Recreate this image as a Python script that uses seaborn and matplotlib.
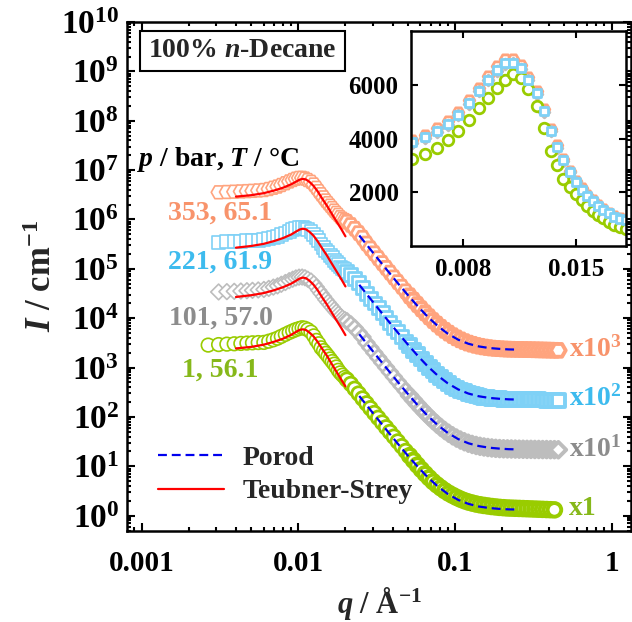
import numpy as np
import matplotlib
matplotlib.use("Agg")
import matplotlib.pyplot as plt
import seaborn as sns
from matplotlib.ticker import FixedLocator, NullLocator, NullFormatter, LogLocator, FixedFormatter
from matplotlib.lines import Line2D

nan = np.nan

# ---------------- data ----------------
q = [0.00266, 0.00310, 0.00350, 0.00390, 0.00430, 0.00470, 0.00510, 0.00555,
     0.00603, 0.00648, 0.00693, 0.00737, 0.00779, 0.00827, 0.00875, 0.00921, 0.00965, 0.01011,
     0.01058, 0.01103, 0.01150, 0.01205, 0.01255, 0.01303, 0.01351, 0.01397, 0.01450, 0.01497,
     0.01548, 0.01597, 0.01646, 0.01696, 0.01747, 0.01800, 0.01854, 0.01916, 0.01981,
     0.02042, 0.02163, 0.02291, 0.02427, 0.02570, 0.02723, 0.02884, 0.03055, 0.03236, 0.03428,
     0.03631, 0.03846, 0.04074, 0.04315, 0.04571, 0.04842, 0.05129, 0.05433, 0.05754, 0.06095,
     0.06457, 0.06839, 0.07244, 0.07674, 0.08128, 0.08610, 0.09120, 0.09661, 0.1023, 0.1084,
     0.1148, 0.1216, 0.1288, 0.1365, 0.1445, 0.1531, 0.1622, 0.1718, 0.1820, 0.1928,
     0.2042, 0.2163, 0.2291, 0.2427, 0.2570, 0.2723, 0.2884, 0.3055, 0.3236, 0.3428,
     0.3631, 0.3846, 0.4074, 0.4315, 0.4571]

I_green = [2850, 2920, 2980, 3030, 3080, 3130, 3170, 3210,
           3230, 3420, 3650, 3930, 4280, 4700, 5130, 5510, 5870, 6160,
           6400, 6250, 5850, 5220, 4380, 3550, 3030, 2510, 2200, 1940,
           1700, 1490, 1320, 1170, 1025, 880, 780, 700, 630,
           570, 465, 372, 297, 236, 188, 150, 120, 96, 77,
           61.5, 49.5, 39.8, 31.8, 25.5, 20.4, 16.4, 13.2, 10.6, 8.6,
           7.05, 5.85, 4.9, 4.2, 3.65, 3.2, 2.85, 2.58, 2.35, 2.16,
           2.01, 1.89, 1.8, 1.72, 1.66, 1.61, 1.57, 1.53, 1.5, 1.47,
           1.45, 1.43, 1.42, 1.41, 1.4, 1.39, 1.38, 1.37, 1.36, 1.35,
           1.34, 1.33, 1.32, 1.31, nan]

I_grey = [nan, 3400, 3450, 3500, 3550, 3600, 3660, 3730,
          3820, 4010, 4260, 4510, 4860, 5280, 5750, 6160, 6530, 6780,
          6810, 6590, 6160, 5660, 4990, 4280, 3660, 3170, 2740, 2370,
          2090, 1855, 1660, 1475, 1325, 1200, 1080, 1000, 940,
          870, 750, 632, 514, 415, 317, 252, 200, 159.5, 127,
          101.5, 81, 64.8, 51.9, 41.8, 33.7, 27.2, 22.1, 18.0, 14.7,
          12.15, 10.1, 8.45, 7.15, 6.12, 5.3, 4.66, 4.14, 3.73, 3.4,
          3.14, 2.93, 2.77, 2.64, 2.54, 2.46, 2.4, 2.35, 2.31, 2.28,
          2.26, 2.25, 2.24, 2.23, 2.22, 2.21, 2.2, 2.2, 2.19, 2.19,
          2.18, 2.18, 2.17, 2.17, 2.16]

I_blue = [nan, 3470, 3520, 3570, 3620, 3670, 3720, 3790,
          3863, 4050, 4296, 4544, 4889, 5308, 5778, 6185, 6556, 6802,
          6827, 6605, 6173, 5679, 5012, 4296, 3679, 3185, 2752, 2382,
          2100, 1864, 1667, 1481, 1333, 1210, 1090, 1010, 950,
          880, 760, 640, 520, 420, 321, 255, 203, 162, 129,
          103, 82.2, 65.7, 52.6, 42.3, 34.1, 27.5, 22.3, 18.2, 14.9,
          12.3, 10.2, 8.55, 7.24, 6.2, 5.38, 4.73, 4.21, 3.8, 3.47,
          3.21, 3.0, 2.84, 2.7, 2.6, 2.52, 2.45, 2.4, 2.36, 2.33,
          2.3, 2.29, 2.28, 2.27, 2.26, 2.25, 2.24, 2.23, 2.22, 2.21,
          2.2, 2.19, 2.18, 2.17, 2.16]

I_orange = [nan, 3550, 3600, 3650, 3700, 3750, 3800, 3870,
            3950, 4140, 4390, 4640, 4990, 5420, 5890, 6310, 6690, 6940,
            6960, 6730, 6290, 5780, 5100, 4370, 3740, 3240, 2800, 2420,
            2140, 1900, 1700, 1510, 1360, 1235, 1110, 1030, 970,
            900, 775, 650, 530, 428, 327, 260, 207, 165, 131.5,
            105, 84, 67.3, 54, 43.5, 35.1, 28.4, 23.1, 18.9, 15.5,
            12.8, 10.65, 8.95, 7.6, 6.52, 5.66, 4.98, 4.43, 3.99, 3.64,
            3.36, 3.13, 2.96, 2.81, 2.7, 2.61, 2.54, 2.48, 2.44, 2.41,
            2.38, 2.36, 2.35, 2.34, 2.33, 2.32, 2.31, 2.3, 2.29, 2.28,
            2.27, 2.26, 2.25, 2.24, 2.23]

# Teubner-Strey fits (unscaled)
ts_q = [0.0040, 0.0050, 0.0060, 0.0070, 0.0080, 0.0090, 0.0096, 0.0102, 0.0107, 0.0112,
        0.0118, 0.0125, 0.0133, 0.0142, 0.0152, 0.0163, 0.0175, 0.0188, 0.0200]
ts_green = [2440, 2620, 2900, 3330, 3850, 4600, 5200, 5800, 5950, 5750,
            5100, 4300, 3300, 2400, 1750, 1200, 830, 570, 415]
ts_grey = [2690, 2920, 3220, 3680, 4250, 5000, 5650, 6350, 6640, 6450,
           5720, 4780, 3680, 2640, 1910, 1320, 915, 635, 454]
ts_blue = [2680, 2900, 3200, 3650, 4200, 4950, 5600, 6250, 6490, 6300,
           5600, 4700, 3600, 2600, 1880, 1300, 900, 620, 440]
ts_orange = [2900, 3100, 3400, 3850, 4400, 5150, 5750, 6400, 6640, 6450,
             5750, 4800, 3700, 2650, 1920, 1330, 920, 640, 455]

# Porod fits (unscaled)
porod_q = [0.0245, 0.028, 0.032, 0.037, 0.043, 0.05, 0.058, 0.067, 0.078, 0.09,
           0.105, 0.122, 0.142, 0.165, 0.192, 0.22, 0.247]
porod_green = [265, 156, 92, 52, 29.1, 16.5, 9.7, 6.0, 3.87, 2.75, 2.08, 1.73, 1.53, 1.43, 1.37, 1.34, 1.33]
porod_grey = [474, 279, 164, 92.8, 51.8, 29.3, 17.1, 10.5, 6.74, 4.74, 3.55, 2.92, 2.57, 2.38, 2.28, 2.22, 2.2]
porod_blue = [474, 279, 164, 92.9, 51.9, 29.4, 17.2, 10.6, 6.79, 4.79, 3.6, 2.97, 2.62, 2.43, 2.33, 2.27, 2.25]
porod_orange = [474, 279, 164, 93, 52, 29.5, 17.3, 10.7, 6.85, 4.85, 3.66, 3.03, 2.68, 2.49, 2.39, 2.33, 2.31]

series_names = ["green", "grey", "blue", "orange"]
series_labels = ["1, 56.1", "101, 57.0", "221, 61.9", "353, 65.1"]
scale_factors = [1, 10, 100, 1000]
scale_labels = ["x1", "x10$^{1}$", "x10$^{2}$", "x10$^{3}$"]
y_tick_values = [10.0 ** k for k in range(0, 11)]
y_tick_labels = ["$10^{%d}$" % k for k in range(0, 11)]
x_tick_values = [0.001, 0.01, 0.1, 1]
x_tick_labels = ["0.001", "0.01", "0.1", "1"]
inset_x_ticks = [0.008, 0.015]
inset_x_labels = ["0.008", "0.015"]
inset_y_ticks = [2000, 4000, 6000]

data_I = {"green": I_green, "grey": I_grey, "blue": I_blue, "orange": I_orange}
ts_I = {"green": ts_green, "grey": ts_grey, "blue": ts_blue, "orange": ts_orange}
porod_I = {"green": porod_green, "grey": porod_grey, "blue": porod_blue, "orange": porod_orange}

# ---------------- style ----------------
sns.set_theme(style="ticks")
plt.rcParams["font.family"] = ["Liberation Serif", "DejaVu Serif"]
plt.rcParams["font.weight"] = "bold"
plt.rcParams["mathtext.fontset"] = "custom"
plt.rcParams["mathtext.rm"] = "Liberation Serif:bold"
plt.rcParams["mathtext.it"] = "Liberation Serif:italic:bold"
plt.rcParams["mathtext.bf"] = "Liberation Serif:bold"
plt.rcParams["axes.linewidth"] = 1.8

marker_col = {"green": "#99CC00", "grey": "#BDBDBD", "blue": "#7FD1F6", "orange": "#FFA47E"}
text_col = {"green": "#86B81A", "grey": "#8C8C8C", "blue": "#3DBBEE", "orange": "#F8936B"}
markers = {"green": "o", "grey": "D", "blue": "s", "orange": "H"}
ms_main = {"green": 9.8, "grey": 8.0, "blue": 9.3, "orange": 10.6}
ms_in = {"green": 7.6, "grey": 5.5, "blue": 6.3, "orange": 7.7}

fig = plt.figure(figsize=(6.32, 6.22), dpi=100)
ax = fig.add_axes([127.3 / 632, 1 - 530.5 / 622, (631 - 127.3) / 632, (530.5 - 22) / 622])
ax.set_xscale("log")
ax.set_yscale("log")

qa = np.array(q)
# edge width of the hollow markers: thin where points are sparse, heavier where the
# measured points crowd together into a solid band
edge_w = np.where(qa < 0.02, 1.2, np.where(qa < 0.05, 2.0, 2.8))

for name, sf in zip(series_names, scale_factors):
    yv = np.array(data_I[name], dtype=float) * sf
    sns.scatterplot(x=qa, y=yv, marker=markers[name], s=ms_main[name] ** 2,
                    color=marker_col[name], facecolor="white", edgecolor=marker_col[name],
                    linewidth=1.2, ax=ax, zorder=2, legend=False)
    coll = ax.collections[-1]
    keep = ~np.isnan(yv)
    coll.set_linewidths(edge_w[keep] if len(coll.get_offsets()) == keep.sum() else edge_w)
    sns.lineplot(x=np.array(ts_q), y=np.array(ts_I[name]) * sf, color="#FF0000", lw=1.6,
                 ax=ax, zorder=4, sort=False, estimator=None, legend=False)
    sns.lineplot(x=np.array(porod_q), y=np.array(porod_I[name]) * sf, color="#0000EE", lw=1.6,
                 linestyle=(0, (4, 2.2)), ax=ax, zorder=4, sort=False, estimator=None, legend=False)

ax.set_xlim(0.00081, 1.33)
ax.set_ylim(0.5, 1.0e10)
ax.xaxis.set_major_locator(FixedLocator(x_tick_values))
ax.xaxis.set_major_formatter(FixedFormatter(x_tick_labels))
ax.xaxis.set_minor_locator(LogLocator(base=10, subs=np.arange(2, 10), numticks=50))
ax.xaxis.set_minor_formatter(NullFormatter())
ax.yaxis.set_major_locator(FixedLocator(y_tick_values))
ax.yaxis.set_major_formatter(FixedFormatter(y_tick_labels))
ax.yaxis.set_minor_locator(LogLocator(base=10, subs=np.arange(2, 10), numticks=50))
ax.yaxis.set_minor_formatter(NullFormatter())
ax.tick_params(which="both", direction="in", top=True, right=True, width=1.5, colors="black")
ax.tick_params(which="major", length=6)
ax.tick_params(which="minor", length=3)
ax.tick_params(axis="x", which="major", pad=14, labelsize=21)
ax.tick_params(axis="y", which="major", pad=6, labelsize=24)
for sp in ax.spines.values():
    sp.set_visible(True)
    sp.set_color("black")
    sp.set_linewidth(1.8)

ax.set_xlabel(r"$q$ / Å$^{-1}$", fontsize=22, fontweight="bold", labelpad=6)
ax.set_ylabel(r"$I$ / cm$^{-1}$", fontsize=25, fontweight="bold", labelpad=1)

tkw = dict(transform=ax.transAxes, fontsize=20, fontweight="bold")
ax.text(0.2287, 0.943, r"100% $n$-Decane", ha="center", va="center",
        bbox=dict(boxstyle="square,pad=0.28", fc="white", ec="black", lw=1.5), **tkw)
ax.text(0.019, 0.729, r"$p$ / bar, $T$ / °C", ha="left", va="center", color="black", **tkw)
label_pos = {"orange": (0.184, 0.625), "blue": (0.184, 0.527), "grey": (0.186, 0.418), "green": (0.184, 0.316)}
scale_pos = {"orange": 0.357, "blue": 0.259, "grey": 0.160, "green": 0.044}
for name, lab, slab in zip(series_names, series_labels, scale_labels):
    px, py = label_pos[name]
    ax.text(px, py, lab, ha="center", va="center", color=text_col[name], **tkw)
    ax.text(0.876, scale_pos[name], slab, ha="left", va="center", color=text_col[name], **tkw)

handles = [Line2D([], [], color="#0000EE", lw=1.6, ls=(0, (4, 2.2))),
           Line2D([], [], color="#FF0000", lw=1.6)]
ax.legend(handles, ["Porod", "Teubner-Strey"], loc="upper left", bbox_to_anchor=(0.06, 0.168),
          frameon=False, borderpad=0, borderaxespad=0, handlelength=2.4, handletextpad=0.65,
          labelspacing=0.3, prop=dict(family="Liberation Serif", weight="bold", size=20))

# ---------------- inset ----------------
axi = fig.add_axes([411 / 632, 1 - 246 / 622, (626 - 411) / 632, (246 - 31) / 622])
axi.set_xscale("log")
for name in ["orange", "grey", "green", "blue"]:
    sns.scatterplot(x=qa, y=np.array(data_I[name], dtype=float), marker=markers[name],
                    s=ms_in[name] ** 2, color=marker_col[name], facecolor="white",
                    edgecolor=marker_col[name], linewidth=2.0, ax=axi, legend=False, zorder=2)
axi.set_xlim(0.00599, 0.0198)
axi.set_ylim(0, 8000)
axi.xaxis.set_major_locator(FixedLocator(inset_x_ticks))
axi.xaxis.set_major_formatter(FixedFormatter(inset_x_labels))
axi.xaxis.set_minor_locator(NullLocator())
axi.yaxis.set_major_locator(FixedLocator(inset_y_ticks))
axi.yaxis.set_minor_locator(NullLocator())
axi.tick_params(which="both", direction="in", top=True, right=True, width=1.5, length=5,
                labelsize=18, colors="black")
axi.tick_params(axis="x", pad=9)
axi.tick_params(axis="y", pad=9)
axi.set_xlabel("")
axi.set_ylabel("")
for sp in axi.spines.values():
    sp.set_visible(True)
    sp.set_color("black")
    sp.set_linewidth(1.8)

fig.savefig("out.png", dpi=100)
